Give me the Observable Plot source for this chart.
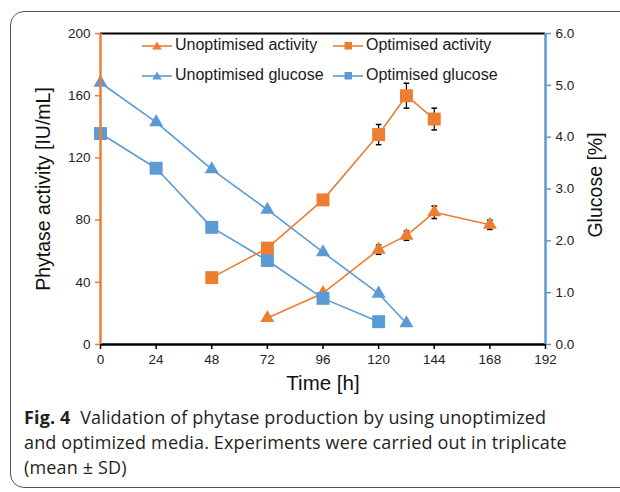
<!DOCTYPE html>
<html><head><meta charset="utf-8">
<script src="https://cdn.jsdelivr.net/npm/d3@7"></script>
<script src="https://cdn.jsdelivr.net/npm/@observablehq/plot@0.6"></script>
<style>
body{margin:0;background:#fff;}
#wrap{position:relative;width:620px;height:492px;overflow:hidden;font-family:"Liberation Sans",Arial,sans-serif;}
#box{position:absolute;left:10px;top:11px;width:640px;height:477px;border:1.3px solid #555;border-radius:14px;box-sizing:border-box;}
#chart{position:absolute;left:0;top:0;}
.leg{position:absolute;font-size:16px;color:#1a1a1a;display:flex;align-items:center;white-space:nowrap;}
.leg svg{margin-right:3px;}
#caption{position:absolute;left:24px;top:405px;font-family:"Open Sans",sans-serif;font-size:18px;line-height:25px;color:#231f20;letter-spacing:0.15px;}
</style></head>
<body><div id="wrap"><div id="box"></div><div id="chart"></div><div id="legend"></div>
<div id="caption"><b>Fig. 4</b>&nbsp; Validation of phytase production by using unoptimized<br>and optimized media. Experiments were carried out in triplicate<br>(mean ± SD)</div></div>
<script>
// ---- data ----
const unoptActTime = [72, 96, 120, 132, 144, 168];
const unoptActVal  = [17, 33, 61, 70, 85, 77];
const unoptActSD   = [1, 1.5, 3, 3, 4, 3];
const optActTime = [48, 72, 96, 120, 132, 144];
const optActVal  = [43, 62, 93, 135, 160, 145];
const optActSD   = [1, 1.5, 3, 6.5, 8, 7];
const unoptGluTime = [0, 24, 48, 72, 96, 120, 132];
const unoptGluVal  = [5.05, 4.29, 3.38, 2.60, 1.78, 0.98, 0.41];
const optGluTime = [0, 24, 48, 72, 96, 120];
const optGluVal  = [4.07, 3.40, 2.26, 1.62, 0.89, 0.44];
const xTicks = [0, 24, 48, 72, 96, 120, 144, 168, 192];
const yTicks = [0, 40, 80, 120, 160, 200];
const gluTicks = [0, 1, 2, 3, 4, 5, 6];
const seriesNames = ["Unoptimised activity", "Optimised activity", "Unoptimised glucose", "Optimised glucose"];

const ORANGE = "#ED7D31", BLUE = "#5B9BD5";
const k = 200 / 6; // glucose -> left axis units

const ua = unoptActTime.map((t, i) => ({t, v: unoptActVal[i], sd: unoptActSD[i]}));
const oa = optActTime.map((t, i) => ({t, v: optActVal[i], sd: optActSD[i]}));
const ug = unoptGluTime.map((t, i) => ({t, v: unoptGluVal[i] * k}));
const og = optGluTime.map((t, i) => ({t, v: optGluVal[i] * k}));

const cap = {draw(ctx) { ctx.moveTo(-2.8, 0); ctx.lineTo(2.8, 0); }};
const rTri = 5.2, rSq = 7.3;
const FONT = "Liberation Sans, Arial, sans-serif";

function errMarks(data) {
  return [
    Plot.ruleX(data, {x: "t", y1: d => d.v - d.sd, y2: d => d.v + d.sd, stroke: "#000", strokeWidth: 1.2}),
    Plot.dot(data, {x: "t", y: d => d.v + d.sd, symbol: cap, stroke: "#000", strokeWidth: 1.5, r: 3}),
    Plot.dot(data, {x: "t", y: d => d.v - d.sd, symbol: cap, stroke: "#000", strokeWidth: 1.5, r: 3})
  ];
}

const chart = Plot.plot({
  width: 620, height: 400,
  marginLeft: 100, marginRight: 75, marginTop: 33, marginBottom: 56,
  style: {fontFamily: FONT, fontSize: "13.5px", background: "transparent"},
  x: {domain: [0, 192]},
  y: {domain: [0, 200]},
  marks: [
    Plot.ruleY([200], {stroke: "#000", strokeWidth: 2}),
    // unoptimised activity
    Plot.line(ua, {x: "t", y: "v", stroke: ORANGE, strokeWidth: 1.6}),
    ...errMarks(ua),
    Plot.dot(ua, {x: "t", y: "v", symbol: "triangle", r: rTri, fill: ORANGE}),
    // unoptimised glucose
    Plot.line(ug, {x: "t", y: "v", stroke: BLUE, strokeWidth: 1.6}),
    Plot.dot(ug, {x: "t", y: "v", symbol: "triangle", r: rTri, fill: BLUE}),
    // optimised glucose
    Plot.line(og, {x: "t", y: "v", stroke: BLUE, strokeWidth: 1.6}),
    Plot.dot(og, {x: "t", y: "v", symbol: "square", r: rSq, fill: BLUE}),
    // optimised activity
    Plot.line(oa, {x: "t", y: "v", stroke: ORANGE, strokeWidth: 1.6}),
    ...errMarks(oa),
    Plot.dot(oa, {x: "t", y: "v", symbol: "square", r: rSq, fill: ORANGE}),
    // axes
    Plot.axisX(xTicks, {tickSize: 5, stroke: "#000", strokeWidth: 1.5, fill: "#222", tickPadding: 5, label: null}),
    Plot.axisY(yTicks, {tickSize: 5, stroke: ORANGE, strokeWidth: 1.5, fill: "#222", tickPadding: 5, label: null}),
    Plot.axisY(gluTicks.map(g => g * k), {anchor: "right", tickSize: 5, stroke: BLUE, strokeWidth: 1.5, fill: "#222", tickPadding: 5,
      tickFormat: d => (d / k).toFixed(1), label: null}),
    Plot.ruleY([0], {stroke: "#000", strokeWidth: 2.5}),
    Plot.ruleX([0], {stroke: ORANGE, strokeWidth: 2.5}),
    Plot.ruleX([192], {stroke: BLUE, strokeWidth: 2.5}),
    Plot.text(["Time [h]"], {frameAnchor: "bottom", dy: 45, fontSize: 20.5, fill: "#111"}),
    Plot.text(["Phytase activity [IU/mL]"], {frameAnchor: "left", textAnchor: "middle", rotate: -90, dx: -57, fontSize: 19.5, fill: "#111"}),
    Plot.text(["Glucose [%]"], {frameAnchor: "right", textAnchor: "middle", rotate: -90, dx: 50, dy: -4, fontSize: 19.5, fill: "#111"})
  ]
});
document.getElementById("chart").appendChild(chart);

// legend (HTML)
const legendSpec = [
  {name: seriesNames[0], color: ORANGE, sym: "tri", left: 142, top: 45},
  {name: seriesNames[1], color: ORANGE, sym: "sq", left: 333, top: 45},
  {name: seriesNames[2], color: BLUE, sym: "tri", left: 142, top: 75},
  {name: seriesNames[3], color: BLUE, sym: "sq", left: 333, top: 75}
];
const leg = document.getElementById("legend");
for (const s of legendSpec) {
  const div = document.createElement("div");
  div.className = "leg";
  div.style.left = s.left + "px";
  div.style.top = (s.top - 10) + "px";
  div.style.height = "20px";
  const symSvg = s.sym === "tri"
    ? `<polygon points="15,5.5 19.8,13.5 10.2,13.5" fill="${s.color}"/>`
    : `<rect x="11.5" y="6" width="7.5" height="7.5" fill="${s.color}"/>`;
  div.innerHTML = `<svg width="30" height="19"><line x1="0" y1="10" x2="30" y2="10" stroke="${s.color}" stroke-width="1.6"/>${symSvg}</svg><span>${s.name}</span>`;
  leg.appendChild(div);
}
</script></body></html>
